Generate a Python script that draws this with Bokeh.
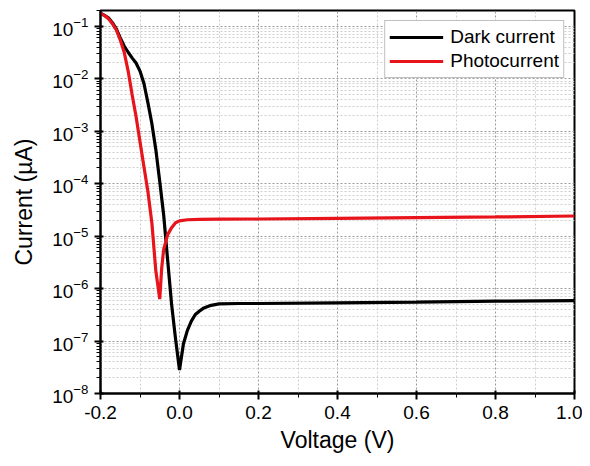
from bokeh.plotting import figure
from bokeh.models import (Range1d, FixedTicker, LogTickFormatter, NumeralTickFormatter,
                          Legend, LegendItem)
from bokeh.embed import file_html
from bokeh.resources import INLINE

# ---- data ----
v_dark = [-0.2, -0.19, -0.18, -0.17, -0.16, -0.15, -0.14, -0.13, -0.12, -0.11, -0.10,
          -0.09, -0.08, -0.07, -0.06, -0.05, -0.04, -0.03, -0.02, -0.01, 0.0,
          0.01, 0.02, 0.03, 0.04, 0.05, 0.06, 0.08, 0.1, 0.15, 0.2, 0.4, 0.6, 0.8, 1.0]
i_dark = [0.178, 0.162, 0.145, 0.117, 0.089, 0.060, 0.042, 0.032, 0.025, 0.020, 0.014,
          8.1e-3, 3.5e-3, 1.4e-3, 4.5e-4, 1.1e-4, 2.5e-5, 3.5e-6, 5.0e-7, 1.1e-7, 2.8e-8,
          8.9e-8, 1.6e-7, 2.4e-7, 3.2e-7, 3.7e-7, 4.2e-7, 4.8e-7, 5.1e-7, 5.2e-7, 5.2e-7,
          5.35e-7, 5.5e-7, 5.75e-7, 5.9e-7]

v_photo = [-0.2, -0.19, -0.18, -0.17, -0.16, -0.15, -0.14, -0.13, -0.12, -0.11, -0.10,
           -0.09, -0.08, -0.07, -0.06, -0.05, -0.045, -0.04, -0.03, -0.02, -0.01, 0.0,
           0.02, 0.05, 0.1, 0.2, 0.4, 0.6, 0.8, 1.0]
i_photo = [0.178, 0.160, 0.140, 0.112, 0.085, 0.055, 0.032, 0.014, 5.0e-3, 1.9e-3, 6.3e-4,
           2.1e-4, 7.1e-5, 1.8e-5, 2.2e-6, 6.3e-7, 2.5e-6, 5.6e-6, 1.07e-5, 1.45e-5, 1.8e-5,
           1.95e-5, 2.05e-5, 2.08e-5, 2.1e-5, 2.12e-5, 2.18e-5, 2.25e-5, 2.32e-5, 2.42e-5]

x_ticks = [-0.2, 0.0, 0.2, 0.4, 0.6, 0.8, 1.0]
x_minor = [-0.1, 0.1, 0.3, 0.5, 0.7, 0.9]
y_exponents = [-8, -7, -6, -5, -4, -3, -2, -1]

series_names = ["Dark current", "Photocurrent"]
series_colors = ["black", "#e8141b"]

FONT = "Liberation Sans"

p = figure(width=582, height=458, output_backend="svg", toolbar_location=None,
           y_axis_type="log",
           x_range=Range1d(-0.2, 1.0), y_range=Range1d(1e-8, 0.2),
           min_border_left=100, min_border_top=10, min_border_right=8, min_border_bottom=65)

p.outline_line_color = "black"
p.outline_line_width = 2
p.background_fill_color = "white"

r1 = p.line(v_dark, i_dark, line_color=series_colors[0], line_width=3.2)
r2 = p.line(v_photo, i_photo, line_color=series_colors[1], line_width=3.2)

# axes
y_major = [10.0 ** e for e in y_exponents]
y_minor = [k * 10.0 ** e for e in y_exponents for k in range(2, 10) if k * 10.0 ** e <= 0.2]
p.yaxis.ticker = FixedTicker(ticks=y_major, minor_ticks=y_minor)
p.yaxis.formatter = LogTickFormatter()
p.xaxis.ticker = FixedTicker(ticks=x_ticks, minor_ticks=x_minor)
p.xaxis.formatter = NumeralTickFormatter(format="0.0")

for ax in (p.xaxis[0], p.yaxis[0]):
    ax.axis_line_width = 2
    ax.axis_line_color = "black"
    ax.major_tick_line_width = 2
    ax.major_tick_line_color = "black"
    ax.minor_tick_line_color = "black"
    ax.minor_tick_line_width = 1
    ax.major_tick_in = 3
    ax.major_tick_out = 6
    ax.minor_tick_in = 0
    ax.minor_tick_out = 4
    ax.major_label_text_font = FONT
    ax.major_label_text_font_size = "19px"
    ax.major_label_text_color = "black"
    ax.axis_label_text_font = FONT
    ax.axis_label_text_font_size = "23px"
    ax.axis_label_text_font_style = "normal"
    ax.axis_label_text_color = "black"

p.xaxis.axis_label = "Voltage (V)"
p.yaxis.axis_label = "Current (µA)"
p.xaxis.major_label_standoff = 6
p.yaxis.major_label_standoff = 6
p.xaxis.axis_label_standoff = 5
p.yaxis.axis_label_standoff = 12

# grids
for g in (p.xgrid[0], p.ygrid[0]):
    g.grid_line_color = "#9a9a9a"
    g.grid_line_dash = "2 2"
    g.grid_line_width = 1
    g.minor_grid_line_color = "#cfcfcf"
    g.minor_grid_line_dash = "2 2"
    g.minor_grid_line_width = 1
p.xgrid.ticker = p.xaxis[0].ticker
p.ygrid.ticker = p.yaxis[0].ticker

legend = Legend(items=[LegendItem(label=series_names[0], renderers=[r1]),
                       LegendItem(label=series_names[1], renderers=[r2])],
                location="top_right")
legend.margin = 10
legend.padding = 4
legend.spacing = 0
legend.glyph_width = 54
legend.glyph_height = 24
legend.label_height = 24
legend.label_standoff = 7
legend.label_text_font = FONT
legend.label_text_font_size = "19px"
legend.label_text_color = "black"
legend.border_line_color = "#7f7f7f"
legend.border_line_width = 1
legend.background_fill_alpha = 1.0
p.add_layout(legend)

open("out.html", "w").write(file_html(p, INLINE))
